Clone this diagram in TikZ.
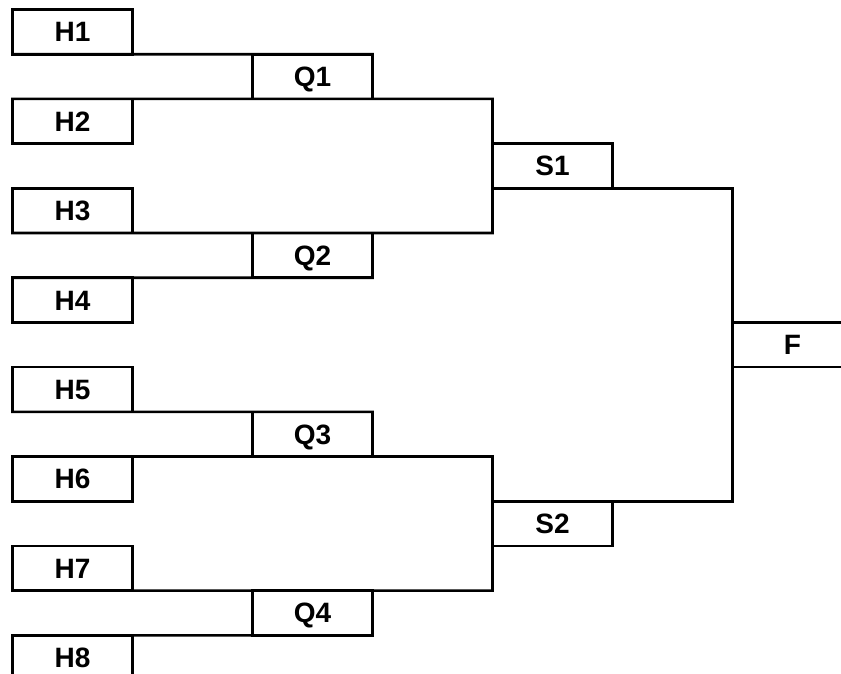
\documentclass[tikz,border=0pt]{standalone}
\usepackage{fontspec}
\setmainfont{Liberation Sans}
\begin{document}
\begin{tikzpicture}[x=1pt,y=-1pt,
  slot/.style={draw, line width=2.6pt, minimum width=120pt, minimum height=44.7pt,
    inner sep=0pt, outer sep=0pt, font=\bfseries\fontsize{28}{28}\selectfont,
    text height=20pt, text depth=0pt},
  link/.style={line width=2.6pt, line cap=rect}]
\useasboundingbox (0,0) rectangle (841,673);
\clip (0,0) rectangle (841,673);
\fill[white] (0,0) rectangle (841,673);
% first round
\node[slot] (H1) at (72.5,31.85) {H1};
\node[slot] (H2) at (72.5,121.25) {H2};
\node[slot] (H3) at (72.5,210.65) {H3};
\node[slot] (H4) at (72.5,300.05) {H4};
\node[slot] (H5) at (72.5,389.45) {H5};
\node[slot] (H6) at (72.5,478.85) {H6};
\node[slot] (H7) at (72.5,568.25) {H7};
\node[slot] (H8) at (72.5,657.65) {H8};
% quarter finals
\node[slot] (Q1) at (312.5,76.55) {Q1};
\node[slot] (Q2) at (312.5,255.35) {Q2};
\node[slot] (Q3) at (312.5,434.15) {Q3};
\node[slot] (Q4) at (312.5,612.95) {Q4};
% semi finals
\node[slot] (S1) at (552.5,165.95) {S1};
\node[slot] (S2) at (552.5,523.55) {S2};
% final
\node[slot] (F) at (792.5,344.75) {F};
% connectors
\draw[link] (H1.south west) -- (Q1.north east);
\draw[link] (H4.north west) -- (Q2.south east);
\draw[link] (H5.south west) -- (Q3.north east);
\draw[link] (H8.north west) -- (Q4.south east);
\draw[link] (H2.north west) -- (Q1.south east -| S1.west) -- (Q2.north east -| S1.west) -- (H3.south west);
\draw[link] (H6.north west) -- (Q3.south east -| S2.west) -- (Q4.north east -| S2.west) -- (H7.south west);
\draw[link] (S1.south west) -- (S1.south east -| F.west) -- (S2.north east -| F.west) -- (S2.north west);
\end{tikzpicture}
\end{document}
